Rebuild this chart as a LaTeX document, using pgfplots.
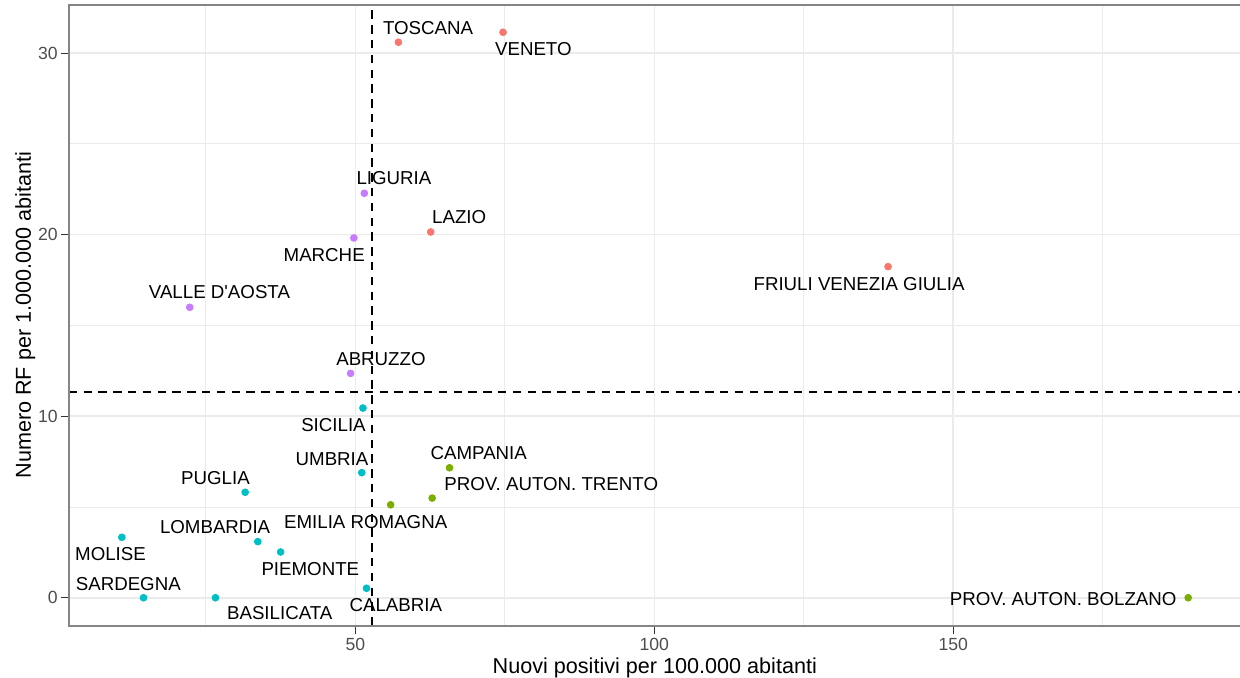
\documentclass[border=0pt]{standalone}
\usepackage{fontspec}
\setmainfont{Liberation Sans}
\usepackage{pgfplots}
\pgfplotsset{compat=1.18}
\definecolor{cRed}{HTML}{F8766D}
\definecolor{cGreen}{HTML}{7CAE00}
\definecolor{cCyan}{HTML}{00BFC4}
\definecolor{cPurple}{HTML}{C77CFF}
\definecolor{gridc}{HTML}{EBEBEB}
\definecolor{borderc}{HTML}{858585}
\definecolor{tickmc}{HTML}{333333}
\definecolor{tickc}{HTML}{4D4D4D}
\tikzset{lab/.style={anchor=base, font=\fontsize{9.35}{11}\selectfont, text=black}}
\begin{document}
\begin{tikzpicture}
\begin{axis}[name=ax, scale only axis, width=586pt, height=310.5pt,
 xmin=2.07, xmax=198.1, ymin=-1.54, ymax=32.67,
 xtick={50,100,150}, ytick={0,10,20,30},
 minor xtick={25,75,125,175}, minor ytick={5,15,25},
 grid=both,
 major grid style={line width=0.8pt, color=gridc},
 minor grid style={line width=0.45pt, color=gridc},
 tick align=outside, tick pos=left, major tick length=4pt, minor tick length=0pt,
 major tick style={tickmc, line width=0.6pt},
 axis line style={draw=none},
 ticklabel style={font=\fontsize{8.8}{10}\selectfont, text=tickc},
 xticklabel style={yshift=1.5pt},
 yticklabel style={xshift=2pt},
 /pgf/number format/assume math mode=true,
 xlabel={Nuovi positivi per 100.000 abitanti},
 ylabel={Numero RF per 1.000.000 abitanti},
 label style={font=\fontsize{10.8}{13}\selectfont},
 xlabel style={at={([yshift=-23.8pt]axis description cs:0.5,0)}, anchor=base},
 ylabel style={at={([xshift=-19pt]axis description cs:0,0.5)}, anchor=base},
 clip=false,
]
\addplot[only marks, mark=*, mark size=1.7pt, color=cRed] coordinates {
 (57.2,30.6) (74.7,31.15) (62.6,20.15) (139.1,18.24)};
\addplot[only marks, mark=*, mark size=1.7pt, color=cPurple] coordinates {
 (51.5,22.28) (49.75,19.82) (22.3,16.0) (49.2,12.36)};
\addplot[only marks, mark=*, mark size=1.7pt, color=cGreen] coordinates {
 (65.75,7.16) (62.84,5.49) (55.9,5.12) (189.3,0)};
\addplot[only marks, mark=*, mark size=1.7pt, color=cCyan] coordinates {
 (51.27,10.45) (51.07,6.89) (31.57,5.81) (10.94,3.33) (33.68,3.09) (37.5,2.52) (51.86,0.52) (14.57,0) (26.6,0)};
\addplot[black, line width=1pt, dash pattern=on 4.2pt off 3.2pt] coordinates {(52.7,-1.54) (52.7,32.67)};
\addplot[black, line width=1pt, dash pattern=on 4.2pt off 3.2pt] coordinates {(2.07,11.33) (198.1,11.33)};
\draw[borderc, line width=0.9pt] (rel axis cs:1.02,1) -- (rel axis cs:0,1) -- (rel axis cs:0,0) -- (rel axis cs:1.02,0);
\node[lab] at (axis cs:62.17,31.0) {TOSCANA};
\node[lab] at (axis cs:79.77,29.86) {VENETO};
\node[lab] at (axis cs:56.45,22.74) {LIGURIA};
\node[lab] at (axis cs:67.37,20.59) {LAZIO};
\node[lab] at (axis cs:44.79,18.51) {MARCHE};
\node[lab] at (axis cs:27.27,16.46) {VALLE D\textquotesingle AOSTA};
\node[lab] at (axis cs:134.25,16.95) {FRIULI VENEZIA GIULIA};
\node[lab] at (axis cs:54.28,12.82) {ABRUZZO};
\node[lab] at (axis cs:46.34,9.15) {SICILIA};
\node[lab] at (axis cs:70.64,7.59) {CAMPANIA};
\node[lab] at (axis cs:46.1,7.31) {UMBRIA};
\node[lab] at (axis cs:26.6,6.25) {PUGLIA};
\node[lab] at (axis cs:82.76,5.9) {PROV. AUTON. TRENTO};
\node[lab] at (axis cs:51.73,3.82) {EMILIA ROMAGNA};
\node[lab] at (axis cs:26.54,3.55) {LOMBARDIA};
\node[lab] at (axis cs:9.05,2.06) {MOLISE};
\node[lab] at (axis cs:42.47,1.25) {PIEMONTE};
\node[lab] at (axis cs:12.02,0.42) {SARDEGNA};
\node[lab] at (axis cs:56.76,-0.77) {CALABRIA};
\node[lab] at (axis cs:37.35,-1.19) {BASILICATA};
\node[lab] at (axis cs:168.4,-0.44) {PROV. AUTON. BOLZANO};
\end{axis}
\pgfresetboundingbox
\path ([xshift=-34.4pt,yshift=-26.15pt]ax.south west) rectangle ([xshift=585.6pt,yshift=312.85pt]ax.south west);
\end{tikzpicture}
\end{document}
